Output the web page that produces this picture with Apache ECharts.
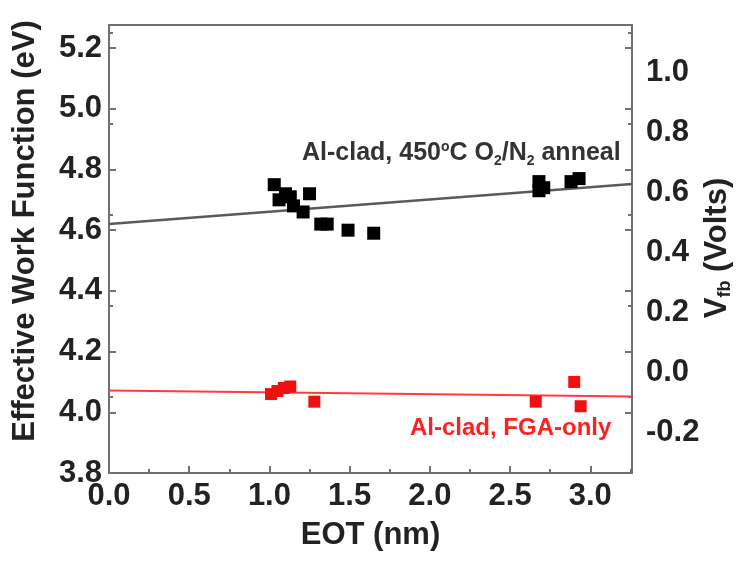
<!DOCTYPE html>
<html><head><meta charset="utf-8">
<script src="https://cdn.jsdelivr.net/npm/echarts@6/dist/echarts.min.js"></script>
<style>html,body{margin:0;padding:0;background:#fff}#c{width:739px;height:563px}</style>
</head><body><div id="c"></div>
<script>
// ---- data ----
const xTicks = [0, 0.5, 1.0, 1.5, 2.0, 2.5, 3.0];
const wfTicks = [3.8, 4.0, 4.2, 4.4, 4.6, 4.8, 5.0, 5.2];
const vfbTicks = [-0.2, 0.0, 0.2, 0.4, 0.6, 0.8, 1.0];
const annealEOT = [1.03, 1.06, 1.10, 1.13, 1.15, 1.21, 1.25, 1.32, 1.36, 1.49, 1.65, 2.68, 2.68, 2.71, 2.88, 2.93];
const annealWF  = [4.75, 4.70, 4.72, 4.71, 4.68, 4.66, 4.72, 4.62, 4.62, 4.60, 4.59, 4.76, 4.73, 4.74, 4.76, 4.77];
const fgaEOT = [1.01, 1.05, 1.09, 1.13, 1.28, 2.66, 2.90, 2.94];
const fgaWF  = [4.06, 4.07, 4.08, 4.085, 4.035, 4.035, 4.10, 4.02];
const annealFitEOT = [0, 3.26];
const annealFitWF = [4.62, 4.752];
const fgaFitEOT = [0, 3.26];
const fgaFitWF = [4.072, 4.052];

const zip = (a, b) => a.map((v, i) => [v, b[i]]);
const FONT = 'Liberation Sans, Arial, sans-serif';
const TXT = '#222';
const AX = '#707070';
const LBL = { fontFamily: FONT, fontSize: 31, fontWeight: 'bold', color: TXT, formatter: v => v.toFixed(1) };

const chart = echarts.init(document.getElementById('c'));
chart.setOption({
  animation: false,
  backgroundColor: '#fff',
  grid: { left: 109, right: 107, top: 25, bottom: 90, show: true, borderColor: AX, borderWidth: 2, backgroundColor: 'transparent' },
  xAxis: [{
    type: 'value', min: 0, max: 3.26, position: 'bottom',
    name: 'EOT (nm)', nameLocation: 'middle', nameGap: 47,
    nameTextStyle: { fontFamily: FONT, fontSize: 31, fontWeight: 'bold', color: TXT, verticalAlign: 'top' },
    axisLine: { show: true, onZero: false, lineStyle: { color: AX, width: 2 } },
    axisTick: { show: true, inside: true, length: 7, customValues: xTicks, lineStyle: { color: AX, width: 2 } },
    minorTick: { show: true, splitNumber: 2, length: 4, lineStyle: { color: AX, width: 2 } },
    axisLabel: Object.assign({ customValues: xTicks, margin: 8 }, LBL),
    splitLine: { show: false }
  }],
  yAxis: [{
    type: 'value', min: 3.8, max: 5.276, position: 'left',
    axisLine: { show: true, onZero: false, lineStyle: { color: AX, width: 2 } },
    axisTick: { show: true, inside: true, length: 7, customValues: wfTicks, lineStyle: { color: AX, width: 2 } },
    minorTick: { show: true, splitNumber: 2, length: 4, lineStyle: { color: AX, width: 2 } },
    axisLabel: Object.assign({ customValues: wfTicks, margin: 7 }, LBL),
    splitLine: { show: false }
  }, {
    type: 'value', min: -0.335, max: 1.157, position: 'right',
    axisLine: { show: false },
    axisTick: { show: false },
    axisLabel: Object.assign({ customValues: vfbTicks, margin: 14 }, LBL),
    splitLine: { show: false }
  }, {
    type: 'value', min: 3.8, max: 5.276, position: 'right', offset: 0,
    axisLine: { show: true, onZero: false, lineStyle: { color: AX, width: 2 } },
    axisTick: { show: true, inside: true, length: 7, customValues: wfTicks, lineStyle: { color: AX, width: 2 } },
    minorTick: { show: true, splitNumber: 2, length: 4, lineStyle: { color: AX, width: 2 } },
    axisLabel: { show: false },
    splitLine: { show: false }
  }],
  series: [{
    type: 'line', data: zip(annealFitEOT, annealFitWF), symbol: 'none',
    lineStyle: { color: '#5a5a5a', width: 2.5 }, z: 2
  }, {
    type: 'line', data: zip(fgaFitEOT, fgaFitWF), symbol: 'none',
    lineStyle: { color: '#ff3b3b', width: 2 }, z: 2
  }, {
    type: 'scatter', data: zip(annealEOT, annealWF), symbol: 'rect', symbolSize: 13,
    itemStyle: { color: '#000', opacity: 1 }, z: 3
  }, {
    type: 'scatter', data: zip(fgaEOT, fgaWF), symbol: 'rect', symbolSize: 12,
    itemStyle: { color: '#f01010', opacity: 1 }, z: 3
  }],
  graphic: [{
    type: 'text', x: 25, y: 231, rotation: Math.PI / 2,
    style: { text: 'Effective Work Function (eV)', fontFamily: FONT, fontSize: 31, fontWeight: 'bold', fill: TXT, align: 'center', verticalAlign: 'middle' }
  }, {
    type: 'text', x: 717, y: 248, rotation: Math.PI / 2,
    style: {
      text: '{v|V}{s|fb}{v| (Volts)}', align: 'center', verticalAlign: 'middle',
      rich: {
        v: { fontFamily: FONT, fontSize: 31, fontWeight: 'bold', fill: TXT },
        s: { fontFamily: FONT, fontSize: 18, fontWeight: 'bold', fill: TXT, padding: [16, 0, 0, 0] }
      }
    }
  }, {
    type: 'text', left: 302, top: 140,
    style: {
      text: '{t|Al-clad, 450}{sup|o}{t|C O}{sub|2}{t|/N}{sub|2}{t| anneal}',
      rich: {
        t: { fontFamily: FONT, fontSize: 25, fontWeight: 'bold', fill: '#333' },
        sup: { fontFamily: FONT, fontSize: 14, fontWeight: 'bold', fill: '#333', padding: [0, 0, 12, 0] },
        sub: { fontFamily: FONT, fontSize: 14, fontWeight: 'bold', fill: '#333', padding: [16, 0, 0, 0] }
      }
    }
  }, {
    type: 'text', left: 410, top: 416,
    style: { text: 'Al-clad, FGA-only', fontFamily: FONT, fontSize: 24, fontWeight: 'bold', fill: '#ff2020' }
  }]
});
</script>
</body></html>
